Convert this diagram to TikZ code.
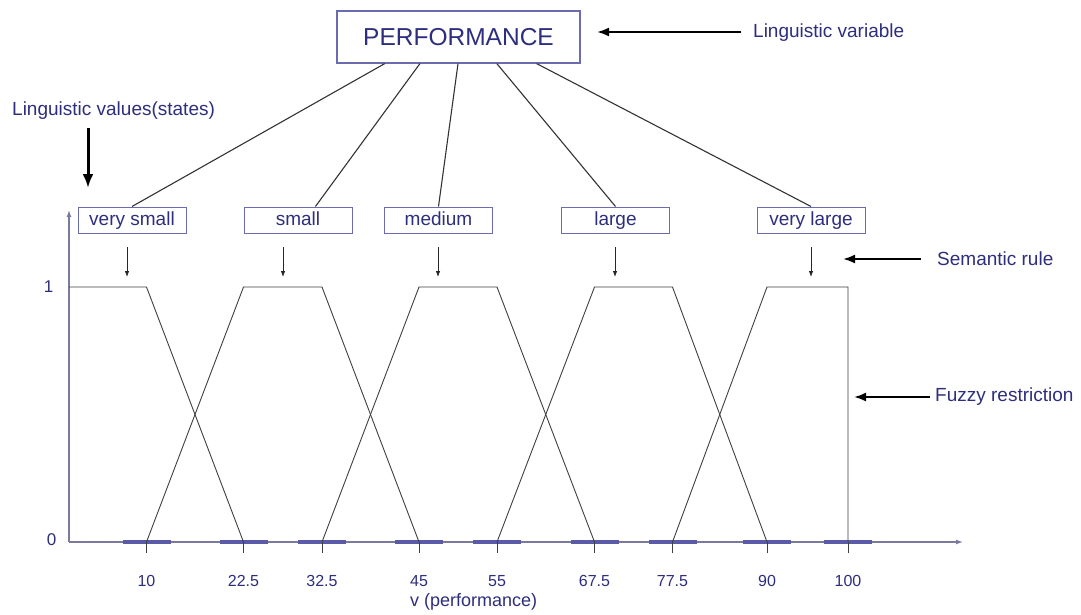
\documentclass[tikz,border=0pt]{standalone}
\usepackage{fontspec}
\setmainfont{Liberation Sans}
\usetikzlibrary{arrows.meta,calc}
\definecolor{txt}{HTML}{2E2E7E}
\definecolor{bord}{HTML}{6B6BB0}
\definecolor{axc}{HTML}{7A7A9E}
\definecolor{dashc}{HTML}{5A5AA8}
\definecolor{mfc}{HTML}{404040}
\begin{document}
\begin{tikzpicture}[x=1pt,y=-1pt,
  lab/.style={text=txt,font=\fontsize{19}{21}\selectfont,inner sep=0pt,text height=14pt,text depth=4pt},
  valbox/.style={draw=bord,line width=1pt,text=txt,font=\fontsize{19}{21}\selectfont,minimum width=108pt,minimum height=26pt,inner sep=0pt,text height=14pt,text depth=4pt},
  link/.style={draw=black!80,line width=1.1pt},
  bigarrow/.style={draw=black,line width=2pt,-{Latex[length=12pt,width=9pt]}},
  fatarrow/.style={draw=black,line width=3pt,-{Latex[length=14pt,width=11pt]}},
  smallarrow/.style={draw=black!85,line width=0.8pt,-{Latex[length=6pt,width=4.5pt]}},
  mf/.style={draw=mfc,line width=0.9pt},
  tickline/.style={draw=mfc,line width=0.9pt},
  ticklab/.style={text=txt,font=\fontsize{16}{18}\selectfont,inner sep=0pt},
  axisline/.style={draw=axc,line width=1.3pt,-{Latex[length=7pt,width=5pt]}},
  axdash/.style={draw=dashc,line width=3.2pt},
  ]
\useasboundingbox (0,0) rectangle (1081,615);
\fill[white] (0,0) rectangle (1081,615);

% top node
\node[draw=bord,line width=1.2pt,text=txt,font=\fontsize{24.5}{27}\selectfont,
      minimum width=243pt,minimum height=52pt,inner sep=0pt] (perf) at (458.5,37) {PERFORMANCE};

% value boxes
\node[valbox] (vs) at (132,220) {very small};
\node[valbox] (sm) at (298,220) {small};
\node[valbox] (md) at (438.5,220) {medium};
\node[valbox] (lg) at (615.5,220) {large};
\node[valbox] (vl) at (811,220) {very large};

% links
\draw[link] ($(perf.south west)!0.198!(perf.south east)$) -- (vs.north);
\draw[link] ($(perf.south west)!0.342!(perf.south east)$) -- ($(sm.north west)!0.66!(sm.north east)$);
\draw[link] ($(perf.south west)!0.498!(perf.south east)$) -- (md.north);
\draw[link] ($(perf.south west)!0.657!(perf.south east)$) -- (lg.north);
\draw[link] ($(perf.south west)!0.82!(perf.south east)$) -- (vl.north);

% annotations
\node[lab,anchor=west] (lv) at (753,33) {Linguistic variable};
\coordinate (lvtip) at (597,32);
\draw[bigarrow] ([xshift=-12pt,yshift=1pt]lv.west) -- (lvtip);

\node[lab,anchor=west] (lvs) at (12,111) {Linguistic values(states)};
\coordinate (lvstail) at (88,128);
\coordinate (lvstip) at (88,188);
\draw[fatarrow] (lvstail) -- (lvstip);

\node[lab,anchor=west] (sr) at (937,260) {Semantic rule};
\coordinate (srtip) at (843,259);
\draw[bigarrow] ([xshift=-16pt,yshift=1pt]sr.west) -- (srtip);

\node[lab,anchor=west] (fr) at (935,396) {Fuzzy restriction};
\coordinate (frtip) at (854,397);
\draw[bigarrow] ([xshift=-5pt,yshift=-1pt]fr.west) -- (frtip);

% small arrows
\coordinate (a1) at (127,277);
\coordinate (a2) at (283,277);
\coordinate (a3) at (438,277);
\coordinate (a4) at (615,277);
\coordinate (a5) at (811,277);
\draw[smallarrow] (127,247) -- (a1);
\draw[smallarrow] (283,247) -- (a2);
\draw[smallarrow] (438,247) -- (a3);
\draw[smallarrow] (615,247) -- (a4);
\draw[smallarrow] (811,247) -- (a5);

% axes
\coordinate (O) at (69,542);
\coordinate (ytip) at (69,210);
\coordinate (xtip) at (963,542);
\draw[axisline] (O) -- (ytip);
\draw[axisline] (O) -- (xtip);
\node[text=txt,font=\fontsize{17}{19}\selectfont,inner sep=0pt] (one) at (48.5,287) {1};
\node[text=txt,font=\fontsize{17}{19}\selectfont,inner sep=0pt] (zero) at (51.5,540) {0};

% dashes, ticks, labels
\foreach \x in {146.5,243.5,322,419,497,594.5,672.5,767,848}{
  \draw[axdash] (\x-24,542) -- (\x+24,542);
}
\foreach \v/\x [count=\i] in {10/146.5,22.5/243.5,32.5/322,45/419,55/497,67.5/594.5,77.5/672.5,90/767,100/848}{
  \draw[tickline] (\x,542) -- (\x,553);
  \node[ticklab] (tl\i) at (\x,581) {\v};
}
\node[lab,anchor=west,font=\fontsize{18}{20}\selectfont] (vperf) at (410,601) {v (performance)};

% membership functions
\draw[mf] (69,287) -- (146.5,287) -- (243.5,542);
\draw[mf] (146.5,542) -- (243.5,287) -- (322,287) -- (419,542);
\draw[mf] (322,542) -- (419,287) -- (497,287) -- (594.5,542);
\draw[mf] (497,542) -- (594.5,287) -- (672.5,287) -- (767,542);
\draw[mf] (672.5,542) -- (767,287) -- (848,287) -- (848,542);
\end{tikzpicture}
\end{document}
